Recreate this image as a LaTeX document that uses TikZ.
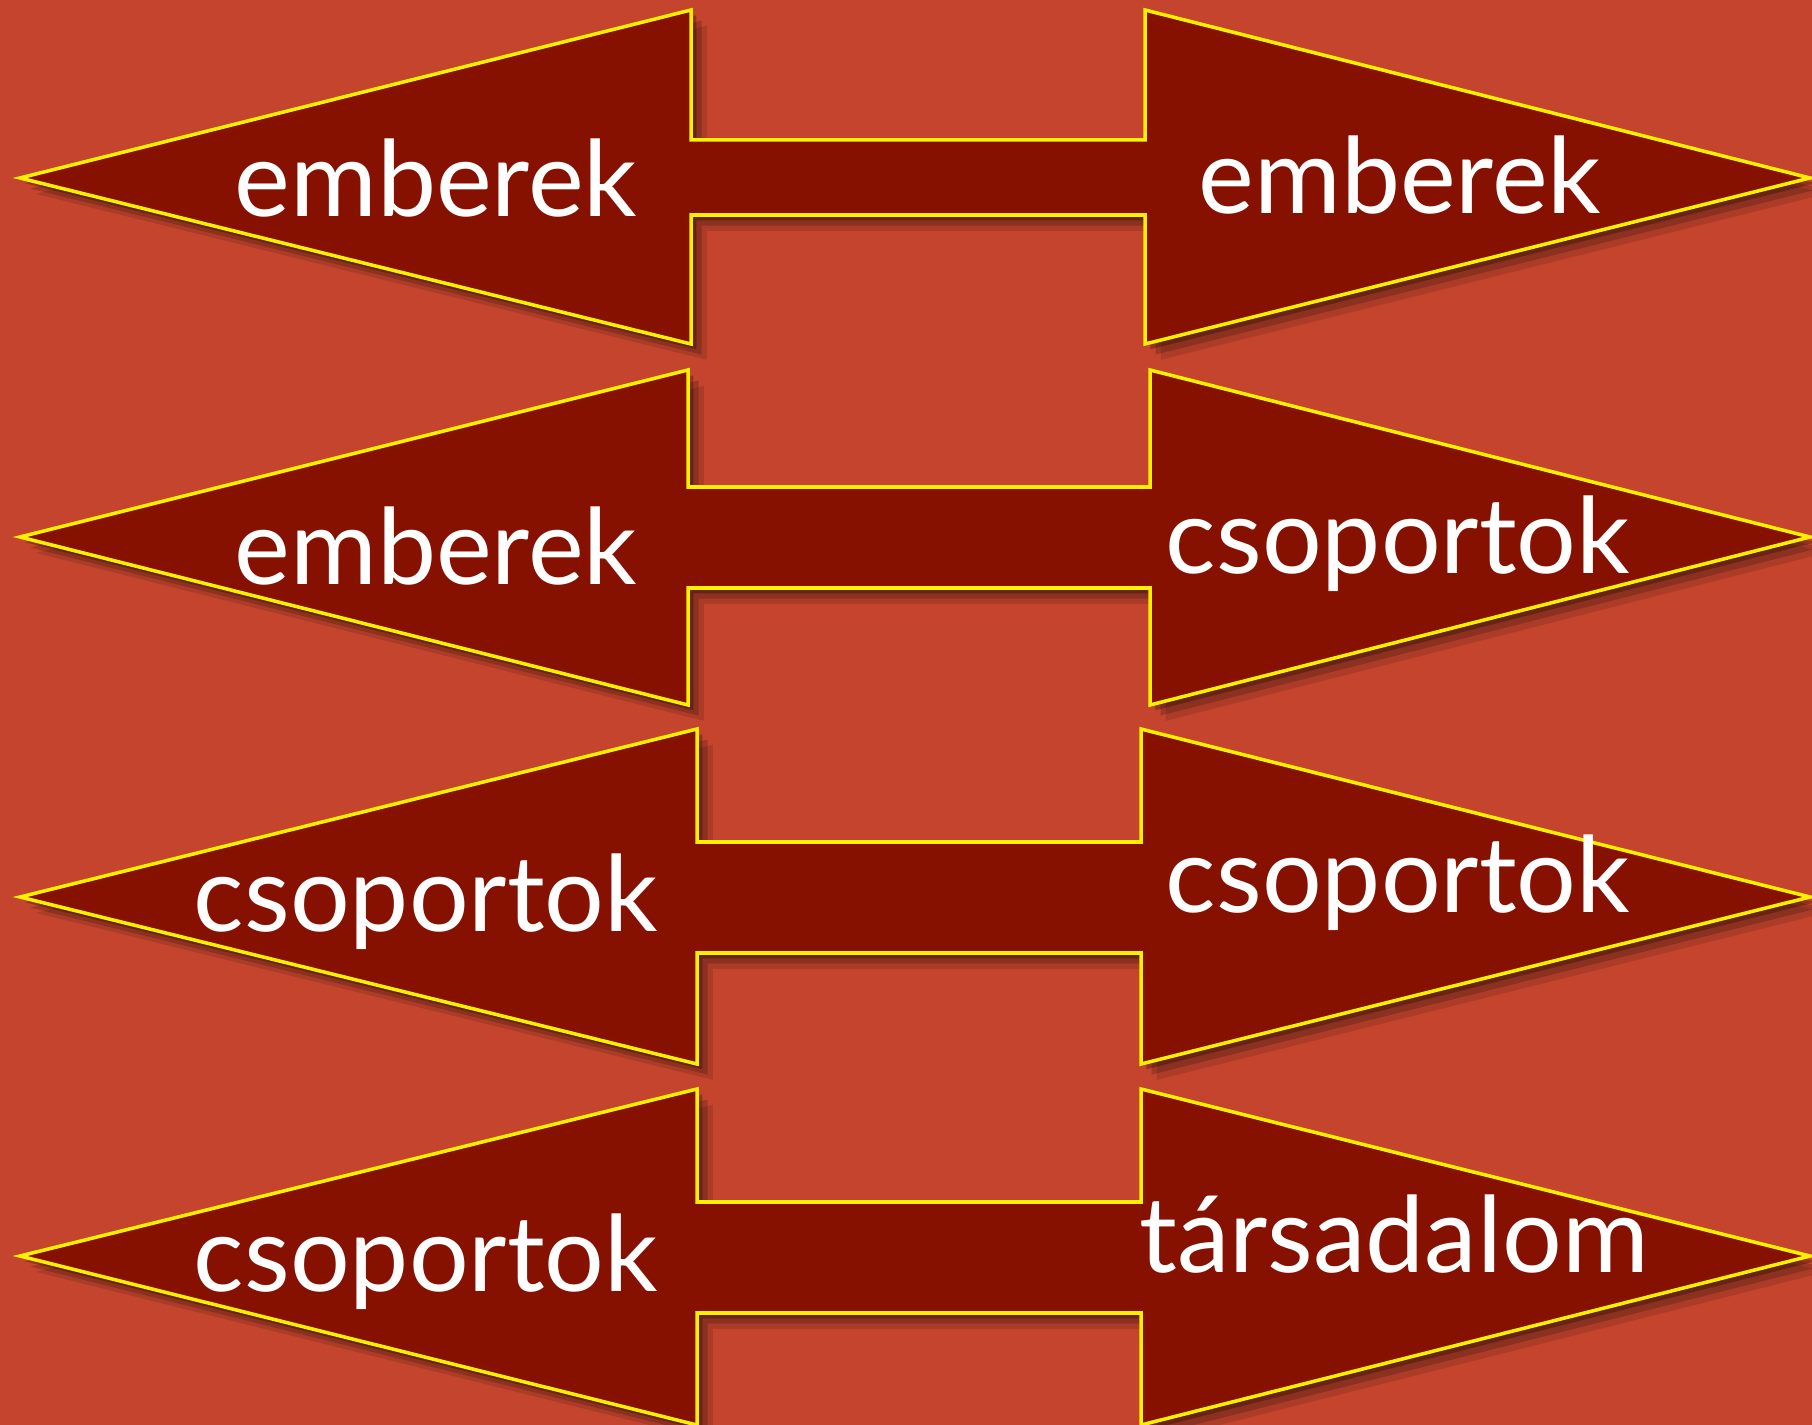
\documentclass[tikz,border=0pt]{standalone}
\usepackage{fontspec}
\setmainfont{Lato}
\usetikzlibrary{shadows}
\definecolor{paper}{RGB}{196,68,45}
\definecolor{arrowred}{RGB}{134,17,0}
\definecolor{rim}{RGB}{255,240,0}

\begin{document}
\begin{tikzpicture}[x=0.01cm,y=-0.01cm,
    dbl/.style={draw=rim,line width=1pt,fill=arrowred,line join=miter,
      drop shadow={shadow xshift=4.5pt,shadow yshift=-4.5pt,opacity=.12,fill=black},
      drop shadow={shadow xshift=3pt,shadow yshift=-3pt,opacity=.18,fill=black},
      drop shadow={shadow xshift=1.5pt,shadow yshift=-1.5pt,opacity=.25,fill=black}},
    lab/.style={anchor=base,text=white,inner sep=0pt,font=\fontsize{30}{36}\selectfont}]
  \fill[paper] (0,0) rectangle (1812,1425);
  \useasboundingbox (0,0) rectangle (1812,1425);
  % people <-> people
  \draw[dbl] (20,178) -- (691,10) -- (691,140) -- (1145,140) -- (1145,10) -- (1810,178)
    -- (1145,344) -- (1145,215) -- (691,215) -- (691,344) -- cycle;
  \node[lab] (left1) at (436,217) {emberek};
  \node[lab] (right1) at (1400,214) {emberek};
  % people <-> groups
  \draw[dbl] (20,537) -- (688,370) -- (688,487) -- (1150,487) -- (1150,370) -- (1810,537)
    -- (1150,705) -- (1150,588) -- (688,588) -- (688,705) -- cycle;
  \node[lab] (left2) at (436,585) {emberek};
  \node[lab] (right2) at (1398,574) {csoportok};
  % groups <-> groups
  \draw[dbl] (20,897) -- (697,729) -- (697,842) -- (1141,842) -- (1141,729) -- (1810,897)
    -- (1141,1064) -- (1141,953) -- (697,953) -- (697,1064) -- cycle;
  \node[lab] (left3) at (426,931) {csoportok};
  \node[lab] (right3) at (1398,912) {csoportok};
  % groups <-> society
  \draw[dbl] (20,1256) -- (697,1089) -- (697,1202) -- (1141,1202) -- (1141,1089) -- (1810,1256)
    -- (1141,1425) -- (1141,1313) -- (697,1313) -- (697,1425) -- cycle;
  \node[lab] (left4) at (426,1291) {csoportok};
  \node[lab] (right4) at (1394,1272) {társadalom};
\end{tikzpicture}
\end{document}
